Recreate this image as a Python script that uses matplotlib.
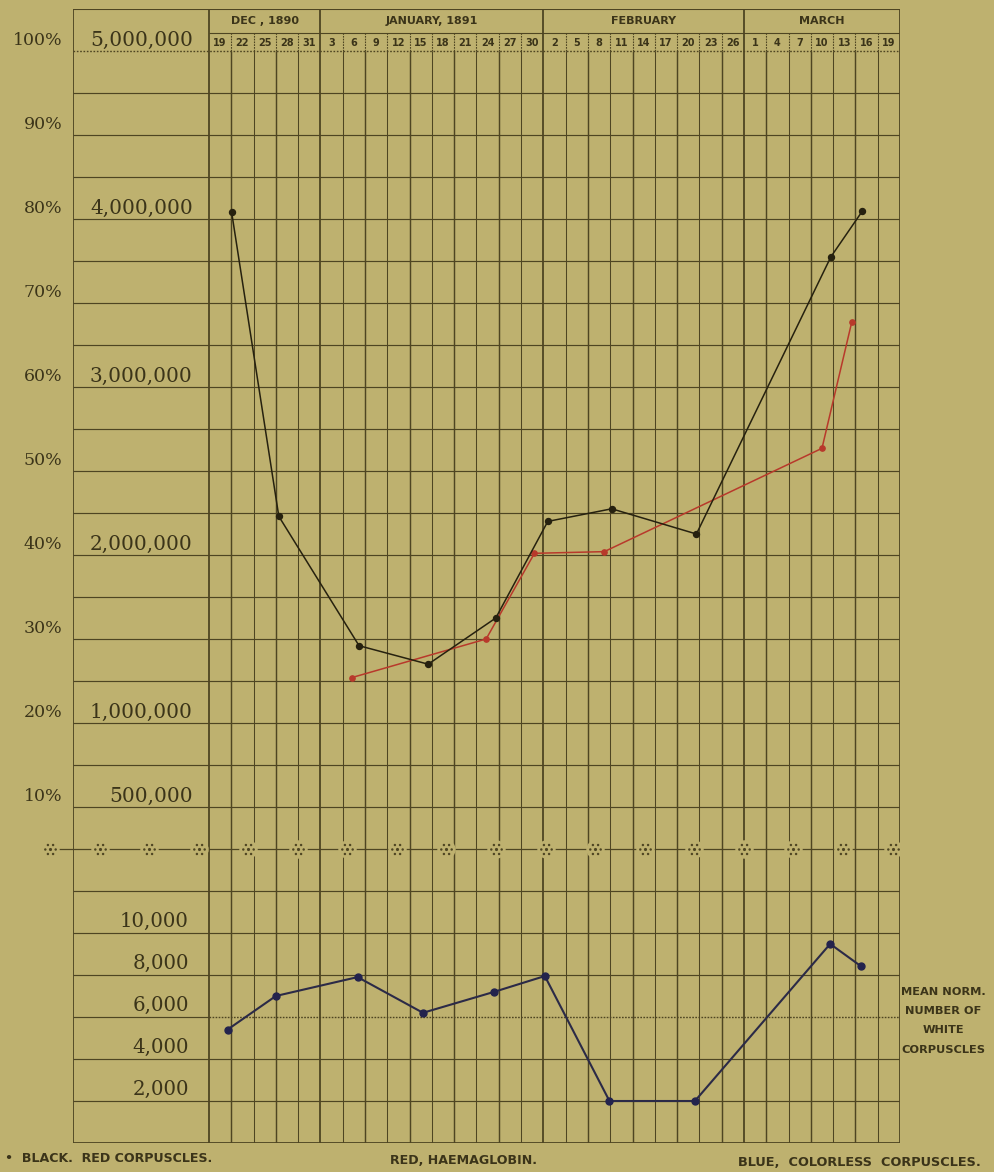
import numpy as np
import matplotlib.pyplot as plt
from matplotlib.path import Path

# x positions are days counted from Dec 19, 1890 (one grid column = 3 days)
red_days = [3.05, 9.4, 20.2, 29.5, 38.6, 45.6, 54.2, 65.6, 83.7, 87.9]
red_cells = [4040000, 2230000, 1460000, 1350000, 1625000, 2200000,
             2275000, 2125000, 3775000, 4045000]

hb_days = [19.2, 37.3, 43.8, 53.2, 82.5, 86.5]
hb_pct = [25.4, 30.0, 40.2, 40.4, 52.7, 67.7]

white_days = [2.5, 9.0, 20.0, 28.8, 38.4, 45.2, 53.9, 65.4, 83.6, 87.7]
white_cells = [5400, 7000, 7900, 6200, 7200, 7950, 2000, 2000, 9480, 8430]
white_norm = 6000

months = ['DEC , 1890', 'JANUARY, 1891', 'FEBRUARY', 'MARCH']
month_cols = [5, 10, 9, 7]
dates = [19, 22, 25, 28, 31,
         3, 6, 9, 12, 15, 18, 21, 24, 27, 30,
         2, 5, 8, 11, 14, 17, 20, 23, 26,
         1, 4, 7, 10, 13, 16, 19]

pct_ticks = [100, 90, 80, 70, 60, 50, 40, 30, 20, 10]
cell_ticks = [100, 80, 60, 40, 20, 10]
cell_labels = ['5,000,000', '4,000,000', '3,000,000', '2,000,000', '1,000,000', '500,000']
white_ticks = [10000, 8000, 6000, 4000, 2000]
white_labels = ['10,000', '8,000', '6,000', '4,000', '2,000']

BG = '#beb16f'
INK = '#4e4522'
TXT = '#3b3419'
W, H = 995, 1172

fig = plt.figure(figsize=(W / 100, H / 100), dpi=100, facecolor=BG)
ax = fig.add_axes([73 / W, 29 / H, 827 / W, 1134 / H])
ax.set_xlim(-18.3, 93)
ax.set_ylim(-30, 105)
ax.axis('off')

# the red-corpuscle scale: 5,000,000 = 100 %
axr = ax.twinx()
axr.set_ylim(-1.5e6, 5.25e6)
axr.axis('off')
# white corpuscles: one row (5 %) = 2,000
axw = ax.twinx()
axw.set_ylim(0, 54000)
axw.axis('off')

ncol = len(dates)
xmax = 3 * ncol

# horizontal rulings
for r in np.arange(-30, 101, 5):
    if r == 5:
        continue
    if r == 100:
        ax.hlines(r, -18.3, xmax, color=INK, lw=1.0, ls=(0, (1.2, 1.2)))
    elif r == white_norm / 400 - 30:
        ax.hlines(r, -18.3, 0, color=INK, lw=0.85)
        ax.hlines(r, 0, xmax, color=INK, lw=1.0, ls=(0, (1.2, 1.0)))
    else:
        ax.hlines(r, -18.3, xmax, color=INK, lw=0.85 if r > -30 else 1.3)
ax.hlines(105, -18.3, xmax, color=INK, lw=1.5)
ax.hlines(102.1, 0, xmax, color=INK, lw=0.8)

# vertical rulings
bounds = np.cumsum([0] + month_cols)
for k in range(ncol + 1):
    x = 3 * k
    if k in bounds:
        ax.vlines(x, -30, 105, color=INK, lw=1.3)
    else:
        ax.vlines(x, -30, 100, color=INK, lw=1.05 if k % 2 else 0.75)
        ax.vlines(x, 100, 102.1, color=INK, lw=0.8, ls=(0, (1.5, 1)))
ax.vlines(-18.3, -30, 105, color=INK, lw=1.3)

# month and date headers
for name, a, b in zip(months, bounds[:-1], bounds[1:]):
    ax.text(1.5 * (a + b), 103.6, name, ha='center', va='center', fontsize=8,
            fontweight='bold', color=TXT, family='DejaVu Sans')
for k, d in enumerate(dates):
    ax.text(3 * k + 1.5, 101.0, str(d), ha='center', va='center', fontsize=7,
            fontweight='bold', color=TXT, family='DejaVu Sans')

# left scales
for p in pct_ticks:
    ax.text(-19.7, p + 1.3, f'{p}%', ha='right', va='center', fontsize=12.5,
            color=TXT, family='DejaVu Serif', clip_on=False)
for p, lab in zip(cell_ticks, cell_labels):
    ax.text(-2.2, p + 1.3, lab, ha='right', va='center', fontsize=14.5,
            color=TXT, family='DejaVu Serif')
for c, lab in zip(white_ticks, white_labels):
    axw.text(-2.7, c + 560, lab, ha='right', va='center', fontsize=14.2,
             color=TXT, family='DejaVu Serif')

# separator row of ornaments at 5 %
parts = [Path.circle((0, 0), 0.22)]
for a in np.linspace(0, 2 * np.pi, 7)[:-1]:
    parts.append(Path.circle((0.72 * np.cos(a), 0.72 * np.sin(a)), 0.17))
flower = Path.make_compound_path(*parts)
orn_x = np.linspace(-21.4, 92.0, 18)
ax.hlines(5, -21.4, xmax, color=INK, lw=0.9, clip_on=False)
ax.scatter(orn_x, np.full(orn_x.shape, 5), s=150, color=BG, zorder=3, clip_on=False)
ax.scatter(orn_x, np.full(orn_x.shape, 5), s=85, marker=flower, color=INK,
           lw=0, zorder=4, clip_on=False)

# data
axr.plot(red_days, red_cells, color='#26210f', lw=1.1, marker='o', ms=4.3, zorder=5)
ax.plot(hb_days, hb_pct, color='#b8392b', lw=1.1, marker='o', ms=3.8, zorder=6)
axw.plot(white_days, white_cells, color='#2b2a47', lw=1.5, marker='o', ms=5,
         mfc='#23234d', mec='#23234d', zorder=5)

# notes
for i, line in enumerate(['MEAN NORM.', 'NUMBER OF', 'WHITE', 'CORPUSCLES']):
    fig.text(943 / W, 1 - (992 + 19.2 * i) / H, line, ha='center', va='center',
             fontsize=8.2, fontweight='bold', color=TXT, family='DejaVu Sans')
fig.text(5 / W, 1 - 1159 / H, '•  BLACK.  RED CORPUSCLES.', ha='left', va='center',
         fontsize=9.1, fontweight='bold', color=TXT, family='DejaVu Sans')
fig.text(464 / W, 1 - 1160 / H, 'RED, HAEMAGLOBIN.', ha='center', va='center',
         fontsize=9.1, fontweight='bold', color=TXT, family='DejaVu Sans')
fig.text(981 / W, 1 - 1162 / H, 'BLUE,  COLORLESS  CORPUSCLES.', ha='right', va='center',
         fontsize=9.3, fontweight='bold', color=TXT, family='DejaVu Sans')

fig.savefig('out.png', dpi=100, facecolor=BG)
